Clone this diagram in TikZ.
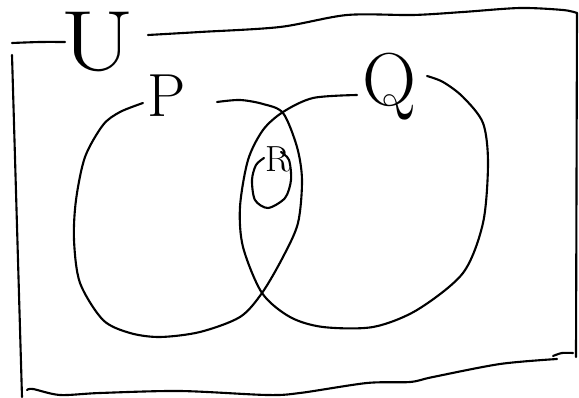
\documentclass[tikz,border=0pt]{standalone}
\usepackage{tikz}
\usetikzlibrary{positioning}

\tikzset{
  sketch/.style={line width=1.8pt, line cap=round, line join=round},
  letter/.style={inner sep=0pt, anchor=base}
}

\begin{document}
\begin{tikzpicture}[x=0.03cm, y=-0.03cm]
    \useasboundingbox (0,0) rectangle (579,398);

    % Universal set box (open round the U)
    \draw[sketch] plot[smooth] coordinates {(12,43) (40,42) (65,42)};
    \draw[sketch] plot[smooth] coordinates {(148,35) (200,32) (280,27) (347,15) (413,15) (463,12) (520,8) (563,10) (577,13)};
    \draw[sketch] (577,13) -- (576,357);
    \draw[sketch] (12,55) -- (22,397);
    \draw[sketch] plot[smooth] coordinates {(27,390) (33,389) (60,395) (100,393) (180,391) (267,395)
        (300,393) (367,383) (410,382) (433,377) (500,364) (557,359)};
    \draw[sketch] plot[smooth] coordinates {(553,356) (562,353) (573,353)};

    % Set P
    \draw[sketch] plot[smooth] coordinates {(143,103) (120,112) (103,125) (85,157) (76,200) (74,240)
        (80,283) (103,320) (130,333) (160,337) (200,332) (240,317) (262,293) (283,257)
        (298,223) (302,180) (297,147) (283,113) (263,104) (240,100) (217,102)};

    % Set Q
    \draw[sketch] plot[smooth] coordinates {(357,95) (313,98) (283,112) (263,130) (248,160) (240,207)
        (243,247) (262,293) (290,317) (323,327) (373,327) (417,310) (463,273) (483,223)
        (488,163) (483,123) (463,97) (443,82) (427,76)};

    % Set R inside the overlap
    \draw[sketch] plot[smooth] coordinates {(281,152) (289,160) (291,180) (285,198) (268,208)
        (255,200) (252,180) (256,165) (264,158)};

    % Labels
    \node[letter, xscale=1.25] (lblU) at (98,71) {\fontsize{73}{80}\selectfont U};
    \node[letter] (lblP) at (167,117) {\fontsize{52}{60}\selectfont P};
    \node[letter] (lblQ) at (389,106) {\fontsize{64}{72}\selectfont Q};
    \node[letter] (lblR) at (278,172) {\fontsize{31}{36}\selectfont R};
\end{tikzpicture}
\end{document}
